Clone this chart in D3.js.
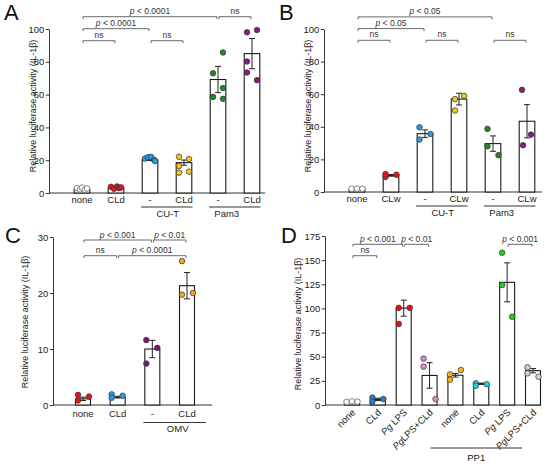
<!DOCTYPE html>
<html>
<head>
<meta charset="utf-8">
<script src="https://cdn.jsdelivr.net/npm/d3@7"></script>
<style>
  html, body { margin: 0; padding: 0; background: #fff; }
  svg { display: block; }
</style>
</head>
<body>
<div id="fig"></div>
<script>
/* ---------- data ---------- */

// Panel A
const aCats   = ["none", "CLd", "-", "CLd", "-", "CLd"];
const aMeans  = [2.5, 3.2, 20.3, 18.5, 69.2, 85.0];
const aSem    = [0.3, 0.3, 0.5, 1.6, 8.0, 9.2];
const aPoints = [
  [3.0, 2.2, 3.3, 2.0, 2.8],
  [3.8, 2.6, 4.0, 3.0, 3.4],
  [21.0, 21.8, 22.0, 20.2, 19.5],
  [22.1, 20.7, 16.5, 13.0, 12.4],
  [85.7, 73.0, 64.0, 58.6, 57.4],
  [98.0, 99.4, 80.2, 73.5, 68.8]
];
const aTicks  = [0, 20, 40, 60, 80, 100];
const aGroups = [[2, 3, "CU-T"], [4, 5, "Pam3"]];
const aComps  = [[0, 1, "ns", 0], [2, 3, "ns", 0], [0, 2, "p < 0.0001", 1], [0, 4, "p < 0.0001", 2], [4, 5, "ns", 2]];

// Panel B
const bCats   = ["none", "CLw", "-", "CLw", "-", "CLw"];
const bMeans  = [2.0, 10.2, 35.8, 57.0, 29.7, 43.4];
const bSem    = [0.1, 0.5, 2.3, 3.6, 4.7, 10.2];
const bPoints = [
  [2.0, 2.1, 2.0],
  [9.2, 11.0, 10.6],
  [39.7, 32.2, 35.6],
  [57.0, 59.0, 50.0],
  [38.7, 28.1, 22.6],
  [62.7, 35.2, 28.7]
];
const bTicks  = [0, 20, 40, 60, 80, 100];
const bGroups = [[2, 3, "CU-T"], [4, 5, "Pam3"]];
const bComps  = [[0, 1, "ns", 0], [2, 3, "ns", 0], [4, 5, "ns", 0], [0, 2, "p < 0.05", 1], [0, 4, "p < 0.05", 2]];

// Panel C
const cCats   = ["none", "CLd", "-", "CLd"];
const cMeans  = [1.1, 1.4, 10.0, 21.3];
const cSem    = [0.3, 0.15, 1.55, 2.35];
const cPoints = [
  [1.8, 0.8, 1.5],
  [1.9, 1.3, 1.65],
  [11.6, 10.2, 7.4],
  [25.7, 20.0, 19.7]
];
const cTicks  = [0, 10, 20, 30];
const cGroups = [[2, 3, "OMV"]];
const cComps  = [[0, 1, "ns", 0], [1, 3, "p < 0.0001", 0], [0, 2, "p < 0.001", 1], [2, 3, "p < 0.01", 1]];

// Panel D
const dCats   = ["none", "CLd", "Pg LPS", "PgLPS+CLd", "none", "CLd", "Pg LPS", "PgLPS+CLd"];
const dMeans  = [3.5, 5.8, 100.3, 30.6, 30.8, 22.0, 127.0, 35.5];
const dSem    = [0.2, 1.2, 8.3, 13.2, 1.9, 0.7, 20.2, 2.2];
const dPoints = [
  [3.2, 3.8, 3.4],
  [7.6, 3.4, 6.2],
  [100.6, 84.0, 100.6],
  [48.0, 39.7, 6.2],
  [31.7, 26.2, 36.2],
  [22.5, 20.0, 21.5],
  [157.7, 124.2, 91.4],
  [39.0, 32.8, 29.3]
];
const dTicks  = [0, 25, 50, 75, 100, 125, 150, 175];
const dGroups = [[4, 7, "PP1"]];
const dComps  = [[0, 1, "ns", 0], [0, 2, "p < 0.001", 1], [2, 3, "p < 0.01", 1], [6, 7, "p < 0.001", 1]];

/* ---------- colours ---------- */
const WHITE = "#ffffff", RED = "#e8141c", BLUE = "#2b9be0", YELLOW = "#f7c31a",
      GREEN = "#1e8c23", PURPLE = "#8a1a7c";
const aColors = [WHITE, RED, BLUE, YELLOW, GREEN, PURPLE];
const bColors = [WHITE, RED, BLUE, YELLOW, GREEN, PURPLE];
const cColors = [RED, BLUE, "#7b166e", "#f5a21c"];
const dColors = [WHITE, "#2880c8", "#e80f0f", "#d98dc3", "#f5b51a", "#22d0e0", "#22d11f", "#cfcfcf"];

/* ---------- layout ---------- */
const W = 550, H = 464;
const FONT = "'Liberation Sans', Arial, Helvetica, sans-serif";
const INK = "#222";

const jit5 = {
  A: [[-5, -2, 0, 3, 5], [-5, -2, 1, 3, 5], [-5, -2, 1, 4, 5], [-5, 5, -5, 5, -5], [5, -5, 5, -5, 5], [-5, 5, -5, -5, 5]]
};
const jit3 = [-5.5, 0, 5.5];
const jitSide = [-5.5, -5.5, 5.5];

const PANELS = [
  { key: "A", letter: [4, 19.5], cats: aCats, means: aMeans, sem: aSem, pts: aPoints, colors: aColors,
    ticks: aTicks, groups: aGroups, comps: aComps,
    xAxis: 49, xEnd: 265, xr: [82, 252], y0: 193, yTop: 29, barW: 15.6,
    title: [33, 106], br: [40.7, 12], lab: { y: 10, line: 14, grp: 24 }, grpPad: [9, 8.5],
    grpDx: { "CU-T": 1, "Pam3": -8 }, jit: jit5.A },
  { key: "B", letter: [279, 19.5], cats: bCats, means: bMeans, sem: bSem, pts: bPoints, colors: bColors,
    ticks: bTicks, groups: bGroups, comps: bComps,
    xAxis: 324, xEnd: 542, xr: [357, 527], y0: 192, yTop: 29, barW: 15.6,
    title: [308, 106], br: [40.3, 11.7], lab: { y: 10, line: 14, grp: 24 }, grpPad: [9, 8.5],
    grpDx: { "CU-T": 1, "Pam3": -8 },
    jit: [jit3, [-5.5, -5.5, 5.5], jitSide, [-4, 5, -4], jitSide, [-5, 4, -4]] },
  { key: "C", letter: [5, 243], cats: cCats, means: cMeans, sem: cSem, pts: cPoints, colors: cColors,
    ticks: cTicks, groups: cGroups, comps: cComps,
    xAxis: 53, xEnd: 212, xr: [83, 187], y0: 405, yTop: 237, barW: 15,
    title: [25, 322], br: [255.7, 15.7], lab: { y: 12, line: 17.5, grp: 27 }, grpPad: [9, 19],
    grpDx: { "OMV": 3 },
    jit: [[-5, -5, 6], [-6, -6, 5], [-6, 5, -6], [-5, 6, -5]] },
  { key: "D", letter: [281, 243], cats: dCats, means: dMeans, sem: dSem, pts: dPoints, colors: dColors,
    ticks: dTicks, groups: dGroups, comps: dComps,
    xAxis: 325, xEnd: 541, xr: [352, 533], y0: 405, yTop: 236, barW: 15,
    title: [298, 324], br: [255.7, 11.4], lab: { rotate: true, line: 43, grp: 56 }, grpPad: [25, -11],
    grpDx: { "PP1": 0 },
    jit: [jit3, jitSide, [-5, -5, 6], [-6, -6, 6], jitSide, jitSide, [-5, -5, 5], jitSide] }
];

/* ---------- drawing ---------- */
const svg = d3.select("#fig").append("svg")
  .attr("width", W).attr("height", H)
  .attr("viewBox", `0 0 ${W} ${H}`)
  .style("font-family", FONT);

svg.append("rect").attr("width", W).attr("height", H).attr("fill", "#fff");

// text with an italic "p" or "Pg" prefix
function richText(sel, label) {
  const m = label.match(/^(p|Pg)(.*)$/);
  if (m && (m[1] === "Pg" || label.startsWith("p "))) {
    sel.append("tspan").style("font-style", "italic").text(m[1]);
    sel.append("tspan").text(m[2]);
  } else {
    sel.text(label);
  }
}

PANELS.forEach(P => {
  const g = svg.append("g").attr("class", "panel-" + P.key);
  const idx = P.cats.map((_, i) => i);

  const x = d3.scalePoint().domain(idx).range(P.xr);
  const y = d3.scaleLinear().domain([0, d3.max(P.ticks)]).range([P.y0, P.yTop]);

  // panel letter
  g.append("text").attr("x", P.letter[0]).attr("y", P.letter[1])
    .style("font-size", "22px").style("fill", "#111").text(P.key);

  // y axis
  const yAxis = g.append("g").attr("transform", `translate(${P.xAxis},0)`)
    .call(d3.axisLeft(y).tickValues(P.ticks).tickSize(3.2).tickPadding(1.5).tickSizeOuter(0));
  yAxis.select(".domain").attr("stroke", "#333").attr("stroke-width", 1);
  yAxis.selectAll(".tick line").attr("stroke", "#333").attr("stroke-width", 1);
  yAxis.selectAll(".tick text").style("font-size", "9.5px").style("fill", INK).style("font-family", FONT);

  // x baseline
  g.append("line").attr("x1", P.xAxis).attr("x2", P.xEnd)
    .attr("y1", y(0)).attr("y2", y(0)).attr("stroke", "#333").attr("stroke-width", 1);

  // y title
  g.append("text")
    .attr("transform", `translate(${P.title[0] + 3},${P.title[1]}) rotate(-90)`)
    .attr("text-anchor", "middle")
    .style("font-size", "9px").style("fill", INK)
    .text("Relative luciferase activity (IL-1β)");

  // bars
  g.append("g").selectAll("rect").data(idx).enter().append("rect")
    .attr("x", i => x(i) - P.barW / 2)
    .attr("y", i => y(P.means[i]))
    .attr("width", P.barW)
    .attr("height", i => y(0) - y(P.means[i]))
    .attr("fill", "#fff").attr("stroke", "#1a1a1a").attr("stroke-width", 1.1);

  // error bars
  const eb = g.append("g").attr("stroke", "#222").attr("stroke-width", 1);
  idx.forEach(i => {
    const cx = x(i), hi = y(P.means[i] + P.sem[i]), lo = y(P.means[i] - P.sem[i]);
    eb.append("line").attr("x1", cx).attr("x2", cx).attr("y1", hi).attr("y2", lo);
    eb.append("line").attr("x1", cx - 3).attr("x2", cx + 3).attr("y1", hi).attr("y2", hi);
    eb.append("line").attr("x1", cx - 3).attr("x2", cx + 3).attr("y1", lo).attr("y2", lo);
  });

  // individual points
  const pts = [];
  idx.forEach(i => P.pts[i].forEach((v, k) => pts.push({ i, v, dx: P.jit[i][k] })));
  g.append("g").selectAll("circle").data(pts).enter().append("circle")
    .attr("cx", d => x(d.i) + d.dx)
    .attr("cy", d => y(d.v))
    .attr("r", 2.8)
    .attr("fill", d => P.colors[d.i])
    .attr("stroke", d => P.colors[d.i] === WHITE ? "#555" : "#333")
    .attr("stroke-width", 0.7);

  // category labels
  const labG = g.append("g").style("font-size", "9.5px").style("fill", INK);
  idx.forEach(i => {
    const t = labG.append("text");
    if (P.lab.rotate) {
      t.attr("text-anchor", "end")
        .attr("transform", `translate(${x(i) + 4},${y(0) + 8}) rotate(-45)`);
    } else {
      t.attr("text-anchor", "middle").attr("x", x(i)).attr("y", y(0) + P.lab.y);
    }
    richText(t, P.cats[i]);
  });

  // group underlines
  P.groups.forEach(([a, b, name]) => {
    const x1 = x(a) - P.grpPad[0], x2 = x(b) + P.grpPad[1];
    g.append("line").attr("x1", x1).attr("x2", x2)
      .attr("y1", y(0) + P.lab.line).attr("y2", y(0) + P.lab.line)
      .attr("stroke", "#333").attr("stroke-width", 1);
    g.append("text").attr("x", (x1 + x2) / 2 + (P.grpDx[name] || 0)).attr("y", y(0) + P.lab.grp)
      .attr("text-anchor", "middle").style("font-size", "9.5px").style("fill", INK).text(name);
  });

  // significance brackets
  P.comps.forEach(([a, b, label, level]) => {
    const by = P.br[0] - level * P.br[1];
    const x1 = x(a) + 1, x2 = x(b) - 1;
    g.append("path")
      .attr("d", `M${x1},${by + 2.5}V${by}H${x2}V${by + 2.5}`)
      .attr("fill", "none").attr("stroke", "#444").attr("stroke-width", 0.8);
    const t = g.append("text").attr("x", (x1 + x2) / 2).attr("y", by - (label === "ns" ? 3 : 2.5))
      .attr("text-anchor", "middle").style("font-size", "8.5px").style("fill", "#333");
    richText(t, label);
  });
});
</script>
</body>
</html>
